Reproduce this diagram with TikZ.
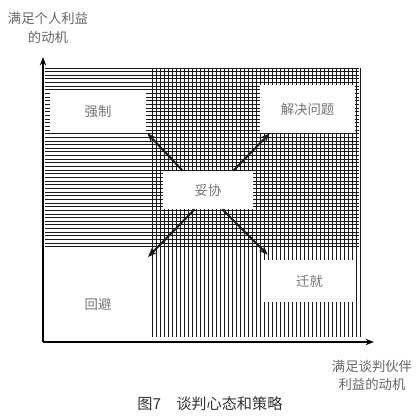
\documentclass[tikz,border=0pt]{standalone}
\usepackage{fontspec}
\newfontfamily\cjk{Noto Sans CJK SC}
\usetikzlibrary{arrows.meta,calc}

\begin{document}
\begin{tikzpicture}[x=0.025cm, y=-0.025cm,
    hatch/.style={black!90, line width=0.7pt},
    axis/.style={-{Stealth[length=6pt,width=4.5pt]}, line width=1.3pt},
    move/.style={-{Stealth[length=6.5pt,width=5pt]}, line width=1.4pt, black!90},
    strategy/.style={fill=white, inner sep=0pt, text=black!55,
        font=\cjk\fontsize{9.5}{11}\selectfont},
    axislabel/.style={align=center, text=black!60,
        font=\cjk\fontsize{9.5}{14}\selectfont}]
    \useasboundingbox (0,0) rectangle (420,420);

    % Hatching: horizontal lines (own interest), vertical lines (partner's interest)
    \foreach \i in {0,...,49}
        \draw[hatch] (45,68+\i*3.65) -- (359,68+\i*3.65);
    \foreach \i in {0,...,52}
        \draw[hatch] (152+\i*4,68) -- (152+\i*4,337);

    % Axes
    \coordinate (origin) at (43,342);
    \coordinate (ytop) at (43,57);
    \coordinate (xend) at (374,342);
    \draw[axis] (origin) -- (ytop);
    \draw[axis] (origin) -- (xend);
    \node[axislabel] (ylabel) at (48,28) {满足个人利益\\的动机};
    \node[axislabel, font=\cjk\fontsize{9.5}{12.8}\selectfont] (xlabel) at (372,375) {满足谈判伙伴\\利益的动机};

    % Strategies
    \node[strategy, minimum width=2.4cm, minimum height=1.025cm] (qiangzhi) at (98,111.5) {强制};
    \node[strategy, minimum width=2.375cm, minimum height=1.2cm] (jiejue) at (307.5,109) {解决问题};
    \node[strategy, minimum width=2.25cm, minimum height=0.95cm] (tuoxie) at (208,190) {妥协};
    \node[strategy, minimum width=2.325cm, minimum height=1.05cm] (qianjiu) at (309.5,281) {迁就};
    \node[strategy, fill=none] (huibi) at (98,304) {回避};
    \coordinate (huibitip) at (148,257);

    % Arrows out of the compromise
    \draw[move] ($(tuoxie.north west)+(20,0)$) -- ($(qiangzhi.south east)+(1,1)$);
    \draw[move] ($(tuoxie.north east)+(-20,0)$) -- ($(jiejue.south west)+(10,0)$);
    \draw[move] ($(tuoxie.south west)+(32,0)$) -- (huibitip);
    \draw[move] ($(tuoxie.south east)+(-31,0)$) -- ($(qianjiu.north west)+(5,-5)$);

    % Caption
    \node[text=black!80, font=\cjk\fontsize{10.8}{13}\selectfont] (caption) at (210,404) {图7　谈判心态和策略};
\end{tikzpicture}
\end{document}
